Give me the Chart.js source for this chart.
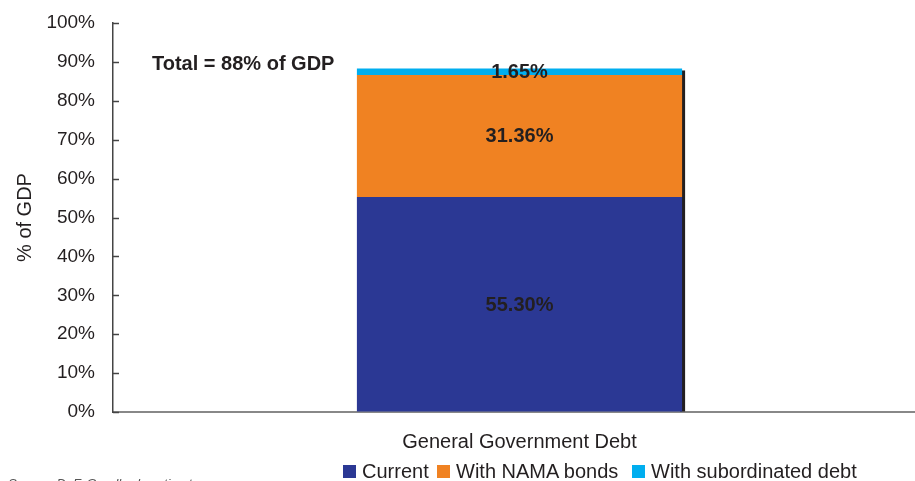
<!DOCTYPE html>
<html>
<head>
<meta charset="utf-8">
<script src="https://cdn.jsdelivr.net/npm/chart.js@4/dist/chart.umd.min.js"></script>
<style>
  html, body { margin: 0; padding: 0; background: #fff; overflow: hidden; width: 915px; height: 481px; }
  #wrap { position: relative; width: 915px; height: 481px; overflow: hidden; }
  #chart { position: absolute; left: 0; top: 0; }
  #legend { position: absolute; left: 0; top: 460px; width: 915px; height: 22px;
            font: 20px "Liberation Sans", Arial, sans-serif; color: #231f20; white-space: nowrap; }
  #legend .item { position: absolute; top: 0; display: flex; align-items: center; }
  #legend .box { width: 13px; height: 13px; margin-right: 6px; }
  #source { position: absolute; left: 8px; top: 476px; font: italic 13px "Liberation Sans", Arial, sans-serif;
            color: #555; white-space: nowrap; }
</style>
</head>
<body>
<div id="wrap">
  <canvas id="chart" width="930" height="481"></canvas>
  <div id="legend"></div>
  <div id="source">Source: DoF, Goodbody estimates</div>
</div>
<script>
// Debt components, % of GDP
const categories = ['General Government Debt'];
const seriesNames = ['Current', 'With NAMA bonds', 'With subordinated debt'];
const current = [55.30];
const namaBonds = [31.36];
const subordinatedDebt = [1.65];
const yTicks = [0, 10, 20, 30, 40, 50, 60, 70, 80, 90, 100];

const colors = ['#2b3894', '#f08222', '#00aeef'];
const legendLeft = [343, 437, 632];
const FONT = '"Liberation Sans", Arial, sans-serif';
const TEXT = '#231f20';

const seriesValues = [current, namaBonds, subordinatedDebt];
const total = seriesValues.reduce((s, arr) => s + arr[0], 0);

// Inward tick marks on the value axis
const innerTicks = {
  id: 'innerTicks',
  afterDraw(chart) {
    const y = chart.scales.y, ctx = chart.ctx;
    const x0 = chart.chartArea.left;
    ctx.save();
    ctx.strokeStyle = '#444';
    ctx.lineWidth = 1.5;
    yTicks.forEach(v => {
      const py = Math.round(y.getPixelForValue(v)) + 0.5;
      ctx.beginPath();
      ctx.moveTo(x0, py);
      ctx.lineTo(x0 + 6, py);
      ctx.stroke();
    });
    ctx.restore();
  }
};

// Dark shadow along the right edge of the stack
const stackShadow = {
  id: 'stackShadow',
  beforeDatasetsDraw(chart) {
    const ctx = chart.ctx;
    const last = chart.getDatasetMeta(chart.data.datasets.length - 1).data[0];
    const first = chart.getDatasetMeta(0).data[0];
    const right = first.x + first.width / 2;
    ctx.save();
    ctx.fillStyle = '#231f20';
    ctx.fillRect(right - 2, last.y + 2, 5, first.base - last.y - 2);
    ctx.restore();
  }
};

// Value labels centred in each segment, plus the total note
const segmentLabels = {
  id: 'segmentLabels',
  afterDatasetsDraw(chart) {
    const ctx = chart.ctx;
    ctx.save();
    ctx.font = 'bold 20px ' + FONT;
    ctx.fillStyle = TEXT;
    ctx.textAlign = 'center';
    ctx.textBaseline = 'middle';
    chart.data.datasets.forEach((ds, i) => {
      chart.getDatasetMeta(i).data.forEach((bar, j) => {
        ctx.fillText(ds.data[j].toFixed(2) + '%', bar.x, (bar.y + bar.base) / 2 + 1);
      });
    });
    ctx.textAlign = 'left';
    ctx.fillText('Total = ' + Math.round(total) + '% of GDP', 152, chart.scales.y.getPixelForValue(89.3));
    ctx.restore();
  }
};

new Chart(document.getElementById('chart'), {
  type: 'bar',
  data: {
    labels: categories,
    datasets: seriesNames.map((name, i) => ({
      label: name,
      data: seriesValues[i],
      backgroundColor: colors[i],
      borderWidth: 0,
      barPercentage: 0.8,
      categoryPercentage: 0.5
    }))
  },
  options: {
    responsive: false,
    animation: false,
    devicePixelRatio: 1,
    layout: { padding: { top: 23, right: 4, left: 0, bottom: 0 } },
    plugins: { legend: { display: false }, tooltip: { enabled: false } },
    scales: {
      x: {
        stacked: true,
        grid: { display: true, drawOnChartArea: false, drawTicks: true, tickLength: 18, color: 'rgba(0,0,0,0)' },
        border: { display: true, color: '#888', width: 2 },
        ticks: { color: TEXT, font: { family: FONT, size: 20 }, padding: 0 },
        afterFit(scale) { scale.height = 69; }
      },
      y: {
        stacked: true,
        min: 0, max: 100,
        grid: { display: true, drawOnChartArea: false, drawTicks: true, tickLength: 18, color: 'rgba(0,0,0,0)' },
        border: { display: true, color: '#444', width: 1.5 },
        afterBuildTicks(scale) { scale.ticks = yTicks.map(v => ({ value: v })); },
        ticks: { color: TEXT, font: { family: FONT, size: 19 }, padding: 0, callback: v => v + '%' },
        title: { display: true, text: '% of GDP', color: TEXT, font: { family: FONT, size: 20 }, padding: { top: 13, bottom: 0 } },
        afterFit(scale) { scale.width = 113; }
      }
    }
  },
  plugins: [stackShadow, segmentLabels, innerTicks]
});

// Legend
const legend = document.getElementById('legend');
seriesNames.forEach((name, i) => {
  const item = document.createElement('div');
  item.className = 'item';
  item.style.left = legendLeft[i] + 'px';
  const box = document.createElement('span');
  box.className = 'box';
  box.style.background = colors[i];
  const label = document.createElement('span');
  label.textContent = name;
  item.appendChild(box);
  item.appendChild(label);
  legend.appendChild(item);
});
</script>
</body>
</html>
